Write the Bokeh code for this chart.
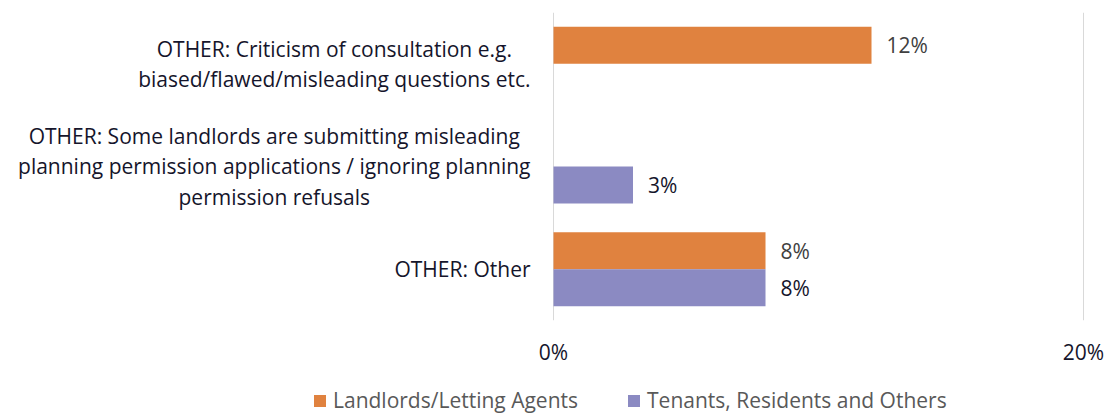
from bokeh.plotting import figure
from bokeh.layouts import column
from bokeh.models import (FactorRange, ColumnDataSource, FixedTicker, PrintfTickFormatter,
                          Legend, LegendItem, Range1d)
from bokeh.transform import dodge
from bokeh.core.properties import value
from bokeh.embed import file_html
from bokeh.resources import INLINE

# ---- data ----
categories = [
    "OTHER: Criticism of consultation e.g.\nbiased/flawed/misleading questions etc.",
    "OTHER: Some landlords are submitting misleading\nplanning permission applications / ignoring planning\npermission refusals",
    "OTHER: Other",
]
series = ["Landlords/Letting Agents", "Tenants, Residents and Others"]
landlords = [12, None, 8]
tenants = [None, 3, 8]
x_ticks = [0, 20]

FONT = "Open Sans"
FS = "21px"
ORANGE = "#E0823F"
PURPLE = "#8B8AC2"
DARK = "#15152b"

W = 1108
p = figure(width=W, height=370,
           y_range=FactorRange(factors=categories[::-1]),
           x_range=Range1d(-20.868, 20.943),
           output_backend="svg", toolbar_location=None,
           min_border_left=0, min_border_right=0, min_border_top=12, min_border_bottom=50)
p.outline_line_color = None
p.yaxis.visible = False
p.ygrid.visible = False
p.xgrid.ticker = FixedTicker(ticks=x_ticks)
p.xgrid.grid_line_color = "#d9d9d9"
p.xgrid.grid_line_width = 1

xa = p.xaxis[0]
xa.ticker = FixedTicker(ticks=x_ticks)
xa.formatter = PrintfTickFormatter(format="%d%%")
xa.axis_line_color = None
xa.major_tick_line_color = None
xa.minor_tick_line_color = None
xa.major_tick_out = 0
xa.major_tick_in = 0
xa.major_label_text_font = FONT
xa.major_label_text_font_size = FS
xa.major_label_text_color = DARK
xa.major_label_standoff = 17

def pick(vals):
    return [(c, v) for c, v in zip(categories, vals) if v is not None]

l_pts = pick(landlords)
t_pts = pick(tenants)
src_l = ColumnDataSource(dict(cat=[c for c, _ in l_pts], val=[v for _, v in l_pts],
                              lab=[f"{v}%" for _, v in l_pts]))
src_t = ColumnDataSource(dict(cat=[c for c, _ in t_pts], val=[v for _, v in t_pts],
                              lab=[f"{v}%" for _, v in t_pts]))

p.hbar(y=dodge("cat", 0.18, range=p.y_range), right="val", left=0, height=0.36,
       source=src_l, fill_color=ORANGE, line_color=None)
p.hbar(y=dodge("cat", -0.18, range=p.y_range), right="val", left=0, height=0.36,
       source=src_t, fill_color=PURPLE, line_color=None)

p.text(x="val", y=dodge("cat", 0.18, range=p.y_range), text="lab", source=src_l,
       x_offset=15, text_baseline="middle", text_align="left",
       text_font=value(FONT), text_font_size=FS, text_color="#404040")
p.text(x="val", y=dodge("cat", -0.18, range=p.y_range), text="lab", source=src_t,
       x_offset=15, text_baseline="middle", text_align="left",
       text_font=value(FONT), text_font_size=FS, text_color=DARK)

# category labels
src_c = ColumnDataSource(dict(cat=categories, x=[0] * len(categories)))
p.text(x="x", y="cat", text="cat", source=src_c, x_offset=-23,
       anchor="center_right", text_align="center", text_baseline="middle",
       text_font=value(FONT), text_font_size=FS, text_color=DARK,
       text_line_height=1.08)

# legend strip (proxy renderers sit outside the visible range)
p2 = figure(width=W, height=44, output_backend="svg", toolbar_location=None,
            min_border_left=0, min_border_right=0, min_border_top=0, min_border_bottom=0,
            x_range=Range1d(0, 1), y_range=Range1d(0, 1))
p2.axis.visible = False
p2.grid.visible = False
p2.outline_line_color = None
g1 = p2.hbar(y=[-5], right=[1], left=[0], height=1, fill_color=ORANGE, line_color=None)
g2 = p2.hbar(y=[-5], right=[1], left=[0], height=1, fill_color=PURPLE, line_color=None)
legend = Legend(items=[LegendItem(label=series[0], renderers=[g1]),
                       LegendItem(label=series[1], renderers=[g2])],
                orientation="horizontal", location=(312, 0),
                label_text_font=FONT, label_text_font_size=FS,
                label_text_color="#595959", glyph_width=15, glyph_height=15,
                label_height=20, label_standoff=6, spacing=48, padding=0, margin=0,
                border_line_color=None, background_fill_alpha=0)
p2.add_layout(legend)

layout = column(p, p2, spacing=0)
open("out.html", "w").write(file_html(layout, INLINE))
